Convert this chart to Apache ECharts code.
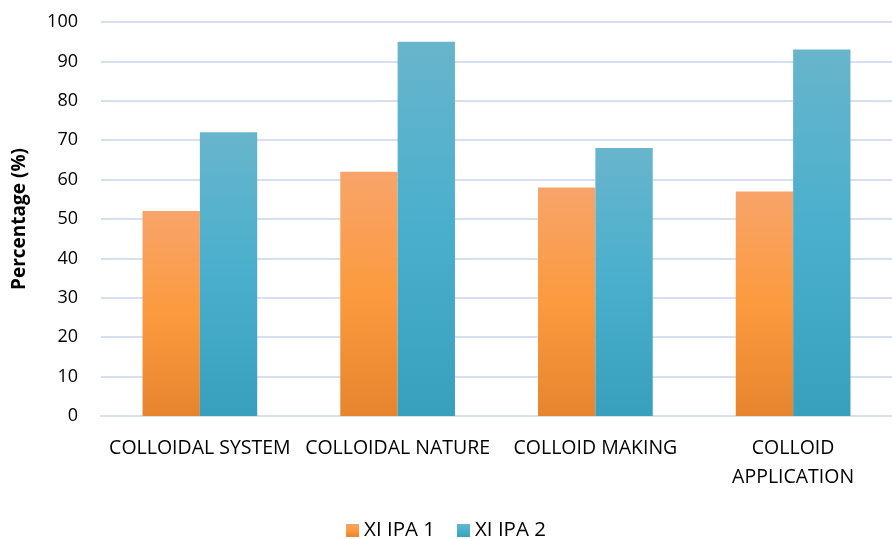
<!DOCTYPE html>
<html>
<head>
<meta charset="utf-8">
<script src="https://cdn.jsdelivr.net/npm/echarts@6/dist/echarts.min.js"></script>
<style>
  html, body { margin: 0; padding: 0; background: #fff; }
  #chart { width: 892px; height: 539px; }
</style>
</head>
<body>
<div id="chart"></div>
<script>
const categories = ['COLLOIDAL SYSTEM', 'COLLOIDAL NATURE', 'COLLOID MAKING', 'COLLOID APPLICATION'];
const ipa1 = [52, 62, 58, 57];
const ipa2 = [72, 95, 68, 93];
const seriesNames = ['XI IPA 1', 'XI IPA 2'];

const FONT = '"Open Sans", "Liberation Sans", sans-serif';

function grad(top, mid, bottom) {
  return new echarts.graphic.LinearGradient(0, 0, 0, 1, [
    { offset: 0, color: top },
    { offset: 0.5, color: mid },
    { offset: 1, color: bottom }
  ]);
}

const chart = echarts.init(document.getElementById('chart'));
chart.setOption({
  backgroundColor: '#fff',
  animation: false,
  textStyle: { fontFamily: FONT },
  grid: { left: 101, right: 0, top: 22, bottom: 123, containLabel: false },
  legend: {
    top: 515,
    left: 'center',
    itemWidth: 13,
    itemHeight: 13,
    itemGap: 22,
    icon: 'rect',
    textStyle: { fontSize: 20.5, color: '#000', fontFamily: FONT },
    data: seriesNames
  },
  xAxis: {
    type: 'category',
    data: categories,
    axisLine: { show: true, lineStyle: { color: '#D6E0F0', width: 2 } },
    axisTick: { show: false },
    axisLabel: {
      interval: 0,
      margin: 18,
      fontSize: 19.5,
      color: '#000',
      lineHeight: 29,
      fontFamily: FONT,
      formatter: v => v === 'COLLOID APPLICATION' ? 'COLLOID\nAPPLICATION' : v
    }
  },
  yAxis: {
    type: 'value',
    min: 0,
    max: 100,
    interval: 10,
    name: 'Percentage (%)',
    nameLocation: 'middle',
    nameGap: 72,
    nameRotate: 90,
    nameTextStyle: { fontSize: 19, fontWeight: 'bold', color: '#000', fontFamily: FONT },
    axisLine: { show: false },
    axisTick: { show: false },
    axisLabel: { fontSize: 18, color: '#000', margin: 23, fontFamily: FONT },
    splitLine: { lineStyle: { color: '#D6E0F0', width: 2 } }
  },
  series: [
    {
      name: seriesNames[0],
      type: 'bar',
      data: ipa1,
      barGap: '0%',
      barCategoryGap: '42%',
      itemStyle: { color: grad('#F8A46A', '#FB9A3E', '#E6852E') }
    },
    {
      name: seriesNames[1],
      type: 'bar',
      data: ipa2,
      itemStyle: { color: grad('#68B5CC', '#49AFCD', '#389FBD') }
    }
  ]
});
</script>
</body>
</html>
